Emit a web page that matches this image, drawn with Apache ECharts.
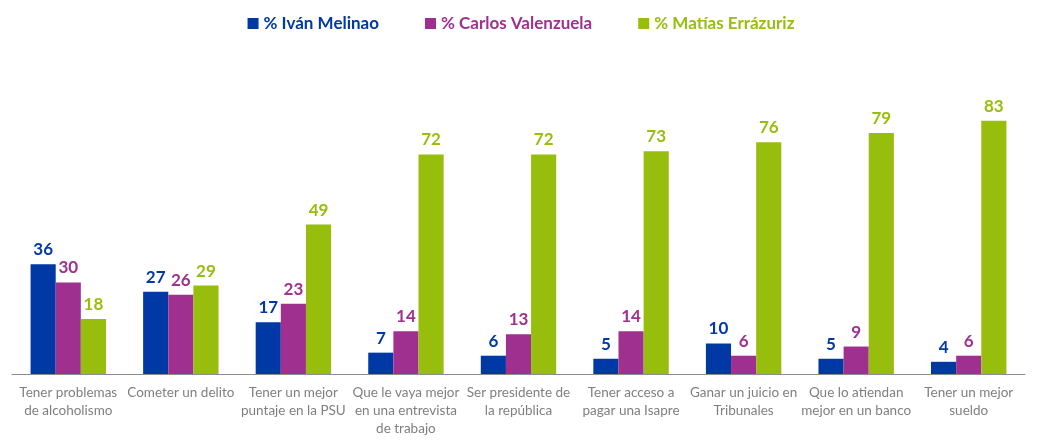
<!DOCTYPE html>
<html><head><meta charset="utf-8">
<script src="https://cdn.jsdelivr.net/npm/echarts@6/dist/echarts.min.js"></script>
<style>html,body{margin:0;padding:0;background:#fff}#c{width:1042px;height:445px}</style>
</head><body><div id="c"></div>
<script>
const categories = ["Tener problemas\nde alcoholismo","Cometer un delito","Tener un mejor\npuntaje en la PSU","Que le vaya mejor\nen una entrevista\nde trabajo","Ser presidente de\nla república","Tener acceso a\npagar una Isapre","Ganar un juicio en\nTribunales","Que lo atiendan\nmejor en un banco","Tener un mejor\nsueldo"];
const seriesNames = ["% Iván Melinao","% Carlos Valenzuela","% Matías Errázuriz"];
const melinao = [36,27,17,7,6,5,10,5,4];
const valenzuela = [30,26,23,14,13,14,6,9,6];
const errazuriz = [18,29,49,72,72,73,76,79,83];
const colors = ["#0039A6","#A0308F","#97BE0D"];
const font = "Lato, 'Open Sans', sans-serif";
const data = [melinao, valenzuela, errazuriz];
const chart = echarts.init(document.getElementById('c'));
chart.setOption({
  animation:false,
  legend:{top:10,left:'center',itemWidth:11,itemHeight:11,itemGap:46,icon:'rect',
    data:seriesNames.map((n,i)=>({name:n,textStyle:{color:colors[i]}})),
    textStyle:{fontSize:17,fontWeight:'bold',fontFamily:font}},
  grid:{left:12,right:17,top:69,bottom:71,containLabel:false},
  xAxis:{type:'category',data:categories,
    axisLine:{lineStyle:{color:'#8c8c8c'}},
    axisTick:{length:5,lineStyle:{color:'#8c8c8c'}},
    axisLabel:{color:'#7f7f7f',fontSize:13.5,fontFamily:font,lineHeight:18,margin:10,interval:0}},
  yAxis:{type:'value',min:0,max:100,show:false,splitLine:{show:false}},
  series:data.map((d,i)=>({name:seriesNames[i],type:'bar',data:d,barGap:'0%',barCategoryGap:'33%',
    itemStyle:{color:colors[i]},
    label:{show:true,position:'top',color:colors[i],fontWeight:'bold',fontSize:17,fontFamily:font,distance:6}}))
});
</script></body></html>
